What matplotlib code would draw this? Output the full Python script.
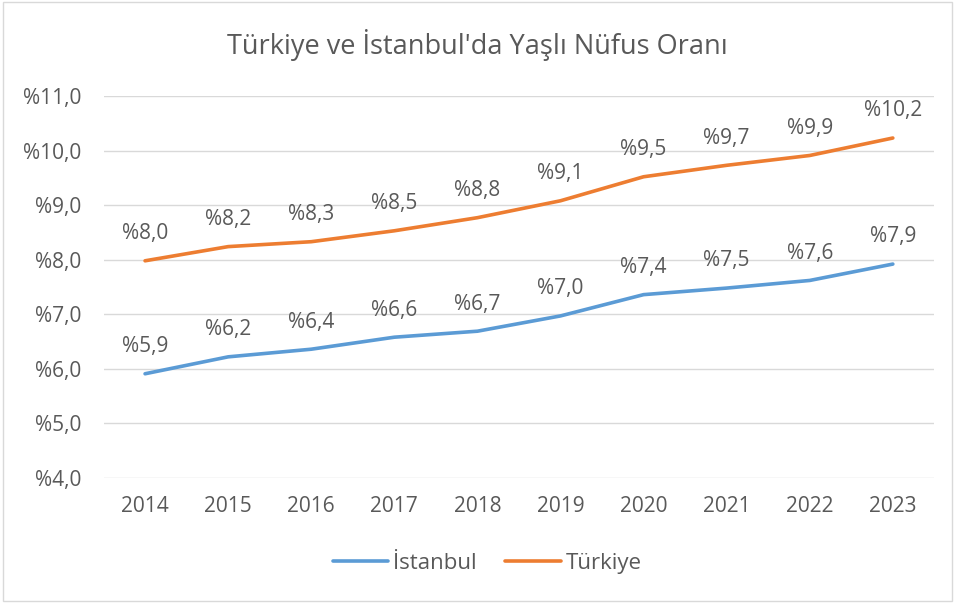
import matplotlib.pyplot as plt
from matplotlib.patches import Rectangle

years = [2014, 2015, 2016, 2017, 2018, 2019, 2020, 2021, 2022, 2023]
istanbul = [5.91, 6.22, 6.36, 6.58, 6.69, 6.97, 7.36, 7.48, 7.62, 7.92]
turkiye = [7.98, 8.24, 8.33, 8.53, 8.77, 9.08, 9.52, 9.73, 9.91, 10.23]

series = [("İstanbul", istanbul, "#5B9BD5"), ("Türkiye", turkiye, "#ED7D31")]
text_color = "#595959"

plt.rcParams['font.family'] = ['Open Sans', 'DejaVu Sans']

fig = plt.figure(figsize=(9.55, 6.03), dpi=100)
ax = fig.add_axes([0.1084, 0.2073, 0.870, 0.6335])

x = list(range(len(years)))
for name, vals, color in series:
    ax.plot(x, vals, color=color, lw=2.6, solid_capstyle='round', label=name)
    for xi, v in zip(x, vals):
        ax.annotate("%" + f"{v:.1f}".replace(".", ","), (xi, v),
                    xytext=(0, 12), textcoords='offset points',
                    ha='center', va='bottom', fontsize=15, color=text_color)

ax.set_xlim(-0.5, len(years) - 0.5)
ax.set_ylim(4, 11)
ax.set_yticks(range(4, 12))
ax.set_yticklabels(["%" + f"{v:.1f}".replace(".", ",") for v in range(4, 12)])
ax.set_xticks(x)
ax.set_xticklabels([str(y) for y in years])
ax.tick_params(length=0, labelsize=15, labelcolor=text_color)
ax.tick_params(axis='y', pad=16)
ax.tick_params(axis='x', pad=13)
ax.grid(axis='y', color='#D9D9D9', lw=1)
ax.set_axisbelow(True)
for s in ax.spines.values():
    s.set_visible(False)

fig.text(0.5, 0.925, "Türkiye ve İstanbul'da Yaşlı Nüfus Oranı",
         ha='center', va='center', fontsize=19.5, color=text_color)

fig.legend(loc='center', bbox_to_anchor=(0.51, 0.066), ncol=2, frameon=False,
           fontsize=16, labelcolor=text_color, handlelength=2.5,
           handletextpad=0.2, columnspacing=1.3)

fig.patches.append(Rectangle((0.003, 0.003), 0.994, 0.994, transform=fig.transFigure,
                             fill=False, edgecolor='#D9D9D9', lw=1))

fig.savefig("out.png", dpi=100)
